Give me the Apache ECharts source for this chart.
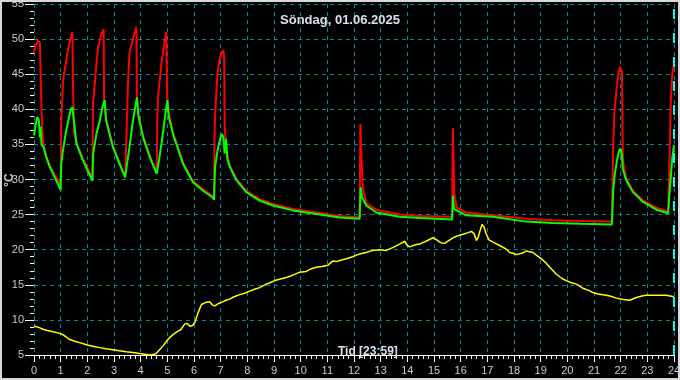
<!DOCTYPE html>
<html>
<head>
<meta charset="utf-8">
<script src="https://cdn.jsdelivr.net/npm/echarts@6/dist/echarts.min.js"></script>
<style>
  html, body { margin: 0; padding: 0; background: #000; }
  #chart-panel { width: 680px; height: 380px; }
</style>
</head>
<body>
<div id="chart-panel"></div>
<script>
// temperatures, hours 0..24
var redT = [0, 0.05, 0.15, 0.22, 0.26, 0.28, 0.31, 0.36, 0.45, 0.59, 0.78, 1.0,
  1.02, 1.09, 1.21, 1.3, 1.4, 1.44, 1.46, 1.5, 1.59, 1.84, 2.19,
  2.21, 2.28, 2.34, 2.41, 2.47, 2.53, 2.61, 2.63, 2.7, 2.96, 3.21, 3.42,
  3.46, 3.52, 3.58, 3.7, 3.78, 3.84, 3.86, 3.92, 4.09, 4.34, 4.6,
  4.62, 4.65, 4.78, 4.9, 4.96, 4.99, 5.1, 5.21, 5.59, 5.96, 6.34, 6.71, 6.75,
  6.77, 6.8, 6.88, 6.96, 7.03, 7.1, 7.13, 7.15, 7.2, 7.34, 7.59, 7.96, 8.46, 8.96, 9.71, 10.59, 11.46, 12.21,
  12.24, 12.28, 12.33, 12.46, 12.84, 13.71, 14.5, 15.68,
  15.71, 15.76, 15.85, 16.2, 17.2, 18.46, 19.46, 20.5, 21.67,
  21.69, 21.72, 21.77, 21.84, 21.9, 21.96, 22.0, 22.05, 22.08, 22.12, 22.21, 22.46, 22.84, 23.34, 23.78,
  23.82, 23.88, 23.94, 24.0];
var redV = [48, 49, 49.8, 49.5, 49.6, 40.2, 37, 35, 33.4, 32, 30.6, 29.3,
  37.7, 44.1, 47, 49, 50.6, 51, 44, 36.8, 35.3, 32.9, 30.2,
  40.5, 43.7, 46.5, 48.9, 49.9, 50.8, 51.4, 41, 38.6, 34.8, 32.4, 30.4,
  35.3, 43.2, 48, 49.9, 51, 51.7, 41.5, 39, 36.2, 33.4, 31,
  38, 41.8, 46.5, 49.9, 51, 42, 38.4, 36.7, 32.4, 29.8, 28.6, 27.6, 27.2,
  36.5, 39.9, 45.1, 47.2, 48, 48.4, 47.5, 38, 34, 32, 30.1, 28.4, 27.2, 26.5, 25.8, 25.3, 24.8, 24.6,
  37.9, 33.2, 28.9, 26.6, 25.7, 25.0, 24.8, 24.7,
  37.3, 28, 26, 25.3, 24.9, 24.4, 24.2, 24.1, 24.0,
  28.4, 35.1, 39.9, 42.7, 44.6, 46, 46.2, 45.5, 33, 31.8, 30.1, 28.4, 27, 26, 25.4,
  30.4, 41.3, 45.1, 46.5];

var greenT = [0, 0.05, 0.12, 0.18, 0.22, 0.25, 0.28, 0.36, 0.45, 0.59, 0.78, 1.0,
  1.02, 1.1, 1.2, 1.3, 1.38, 1.44, 1.59, 1.84, 2.19,
  2.22, 2.34, 2.47, 2.58, 2.65, 2.7, 2.96, 3.21, 3.42,
  3.46, 3.58, 3.71, 3.86, 3.92, 4.09, 4.34, 4.6,
  4.65, 4.8, 4.93, 5.0, 5.05, 5.21, 5.59, 5.96, 6.34, 6.71, 6.75,
  6.79, 6.88, 6.98, 7.05, 7.1, 7.15, 7.2, 7.25, 7.34, 7.59, 7.96, 8.46, 8.96, 9.71, 10.59, 11.46, 12.21,
  12.25, 12.3, 12.46, 12.84, 13.71, 14.5, 15.68,
  15.71, 15.75, 16.2, 17.2, 18.46, 19.46, 20.5, 21.67,
  21.72, 21.78, 21.86, 21.94, 22.0, 22.05, 22.08, 22.21, 22.46, 22.84, 23.34, 23.78,
  23.82, 23.88, 23.94, 24.0];
var greenV = [36.3, 37.5, 38.9, 38.5, 36, 37.5, 35, 34.6, 33.3, 31.8, 30.3, 28.5,
  32.2, 34.5, 36.8, 38.6, 40, 40.3, 35.1, 32.7, 29.8,
  33.7, 36.5, 38.4, 40.5, 41.3, 38.5, 34.6, 32.2, 30.3,
  31.5, 34.6, 38.4, 41.7, 39, 36, 33.2, 30.8,
  31.8, 35.6, 39.4, 41.3, 39, 36.5, 32.2, 29.6, 28.4, 27.4, 27.1,
  31.8, 34.1, 35.8, 36.5, 36, 33.7, 35.8, 33, 31.8, 29.9, 28.2, 27, 26.3, 25.6, 25.1, 24.6, 24.4,
  28.9, 27.5, 26.3, 25.3, 24.7, 24.5, 24.3,
  27.7, 25.8, 24.9, 24.7, 24.0, 23.8, 23.7, 23.6,
  28.4, 30.8, 32.7, 34.1, 34.4, 33.3, 31.5, 29.9, 28.2, 26.8, 25.7, 25.2,
  27.5, 30.4, 33.2, 34.9];

var yellowT = [0, 0.2, 0.34, 0.5, 0.71, 0.9, 1.03, 1.2, 1.34, 1.5, 1.71, 1.85, 2.03, 2.25, 2.46, 2.7, 2.96,
  3.2, 3.46, 3.7, 3.96, 4.15, 4.34, 4.5, 4.59, 4.7, 4.84, 5.0, 5.09, 5.25, 5.4, 5.5, 5.65, 5.75, 5.84, 5.95,
  6.05, 6.15, 6.28, 6.45, 6.59, 6.7, 6.78, 6.9, 7.03, 7.2, 7.34, 7.5, 7.71, 7.9, 8.09, 8.3, 8.46, 8.71, 8.85,
  9.03, 9.21, 9.46, 9.65, 9.84, 9.96, 10.21, 10.4, 10.59, 10.8, 11.03, 11.21, 11.34, 11.5, 11.71, 11.95,
  12.21, 12.45, 12.71, 12.95, 13.21, 13.45, 13.71, 13.9, 14.0, 14.09, 14.3, 14.46, 14.7, 14.96, 15.1, 15.25,
  15.4, 15.55, 15.71, 15.9, 16.09, 16.25, 16.4, 16.5, 16.59, 16.66, 16.71, 16.8, 16.88, 16.95, 17.06, 17.25,
  17.46, 17.7, 17.84, 17.96, 18.09, 18.3, 18.46, 18.71, 18.85, 19.03, 19.2, 19.34, 19.59, 19.8, 19.96, 20.15,
  20.34, 20.59, 20.8, 20.96, 21.15, 21.34, 21.6, 21.84, 22.1, 22.34, 22.59, 22.8, 22.96, 23.2, 23.46, 23.7, 24.0];
var yellowV = [9.14, 8.9, 8.67, 8.5, 8.3, 8.15, 8.0, 7.6, 7.2, 7.0, 6.76, 6.6, 6.4, 6.2, 6.05, 5.9, 5.75,
  5.6, 5.45, 5.35, 5.2, 5.1, 5.0, 5.1, 5.25, 5.7, 6.3, 7.1, 7.5, 8.0, 8.4, 8.6, 9.4, 9.5, 9.1, 9.2,
  9.8, 11.0, 12.2, 12.5, 12.6, 12.1, 12.0, 12.3, 12.5, 12.8, 12.96, 13.3, 13.6, 13.8, 14.1, 14.4, 14.6, 15.1, 15.3,
  15.6, 15.8, 16.05, 16.3, 16.6, 16.8, 16.9, 17.3, 17.5, 17.6, 17.8, 18.4, 18.3, 18.5, 18.7, 19.0,
  19.4, 19.6, 19.9, 20.0, 19.9, 20.3, 20.8, 21.2, 20.6, 20.4, 20.7, 20.8, 21.2, 21.7, 21.4, 21.0,
  20.9, 21.3, 21.7, 22.0, 22.2, 22.4, 22.6, 22.3, 21.3, 21.8, 22.5, 23.6, 23.2, 22.3, 21.4, 21.0,
  20.6, 20.1, 19.6, 19.5, 19.3, 19.5, 19.8, 19.6, 19.2, 18.7, 18.1, 17.5, 16.5, 15.9, 15.6, 15.3,
  15.1, 14.5, 14.2, 13.9, 13.7, 13.57, 13.4, 13.1, 12.9, 12.8, 13.2, 13.4, 13.5, 13.5, 13.5, 13.5, 13.3];

var nowHour = 23.98;

function pairs(t, v) {
  return t.map(function (x, i) { return [x, v[i]]; });
}

var chart = document.getElementById('chart-panel');
var myChart = echarts.init(chart);

var labelColor = '#c4ccd8';
var gridColor = '#008c8c';

var option = {
  backgroundColor: '#000',
  animation: false,
  title: [
    {
      text: 'Söndag, 01.06.2025',
      left: 'center',
      top: 9,
      textStyle: { color: '#d8e0ec', fontSize: 13, fontWeight: 'bold', fontFamily: 'Liberation Sans' }
    },
    {
      text: 'Tid [23:59]',
      left: 333,
      top: 341,
      textStyle: { color: '#d8e0ec', fontSize: 12, fontWeight: 'bold', fontFamily: 'Liberation Sans' }
    }
  ],
  graphic: [
    {
      type: 'rect',
      shape: { x: 1, y: 1, width: 678, height: 378 },
      style: { fill: 'none', stroke: '#d8d8d8', lineWidth: 2 },
      silent: true
    },
    {
      type: 'text',
      x: 10,
      y: 180,
      rotation: Math.PI / 2,
      style: {
        text: '°C',
        fill: labelColor,
        font: 'bold 12px "Liberation Sans"',
        align: 'center',
        verticalAlign: 'middle'
      },
      silent: true
    }
  ],
  grid: { left: 34, right: 6, top: 4, bottom: 25, outerBoundsMode: 'none', containLabel: false },
  xAxis: {
    type: 'value',
    min: 0,
    max: 24,
    interval: 1,
    axisLine: { lineStyle: { color: '#ffffff', width: 1 } },
    axisTick: { length: 7, lineStyle: { color: '#ffffff' } },
    minorTick: { show: true, splitNumber: 5, length: 4, lineStyle: { color: '#ffffff' } },
    axisLabel: { color: labelColor, fontSize: 11, fontFamily: 'Liberation Sans', margin: 10 },
    splitLine: { show: true, lineStyle: { color: gridColor, type: [4, 4], width: 1 } }
  },
  yAxis: {
    type: 'value',
    min: 5,
    max: 55,
    interval: 5,
    axisLine: { show: false },
    axisTick: { show: true, length: 9, lineStyle: { color: '#ffffff' } },
    minorTick: { show: true, splitNumber: 5, length: 4, lineStyle: { color: '#ffffff' } },
    axisLabel: { color: labelColor, fontSize: 11, fontFamily: 'Liberation Sans', margin: 10 },
    splitLine: { show: true, lineStyle: { color: gridColor, type: [4, 4], width: 1 } }
  },
  series: [
    {
      type: 'line',
      data: pairs(redT, redV),
      symbol: 'none',
      lineStyle: { color: '#ff0000', width: 2 },
      z: 3
    },
    {
      type: 'line',
      data: pairs(greenT, greenV),
      symbol: 'none',
      lineStyle: { color: '#00ff00', width: 2 },
      z: 4
    },
    {
      type: 'line',
      data: pairs(yellowT, yellowV),
      symbol: 'none',
      lineStyle: { color: '#ffff00', width: 1.5 },
      z: 5,
      markLine: {
        silent: true,
        symbol: 'none',
        label: { show: false },
        lineStyle: { color: '#00ffff', type: [10, 14], width: 2 },
        data: [{ xAxis: nowHour }]
      }
    }
  ]
};

myChart.setOption(option);
</script>
</body>
</html>
